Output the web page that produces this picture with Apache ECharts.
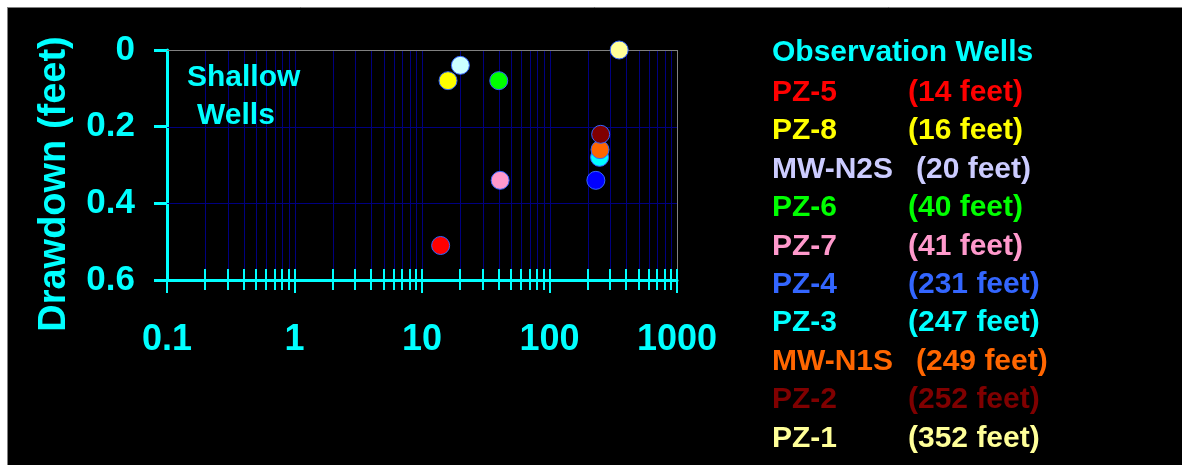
<!DOCTYPE html>
<html>
<head>
<meta charset="utf-8">
<script src="https://cdn.jsdelivr.net/npm/echarts@6/dist/echarts.min.js"></script>
<style>
  html, body { margin: 0; padding: 0; background: #ffffff; }
  #chart { width: 1182px; height: 468px; }
</style>
</head>
<body>
<div id="chart"></div>
<script>
// ---- data ----
const wellNames   = ['PZ-5', 'PZ-8', 'MW-N2S', 'PZ-6', 'PZ-7', 'PZ-4', 'PZ-3', 'MW-N1S', 'PZ-2', 'PZ-1'];
const wellDepths  = ['(14 feet)', '(16 feet)', '(20 feet)', '(40 feet)', '(41 feet)', '(231 feet)', '(247 feet)', '(249 feet)', '(252 feet)', '(352 feet)'];
const distances   = [14, 16, 20, 40, 41, 231, 247, 249, 252, 352];
const drawdowns   = [0.51, 0.08, 0.04, 0.08, 0.34, 0.34, 0.28, 0.26, 0.22, 0.0];
const majorTicks  = [0.1, 1, 10, 100, 1000];
const xTickLabels = ['0.1', '1', '10', '100', '1000'];
const minorTicks  = [0.2, 0.3, 0.4, 0.5, 0.6, 0.7, 0.8, 0.9,
                     2, 3, 4, 5, 6, 7, 8, 9,
                     20, 30, 40, 50, 60, 70, 80, 90,
                     200, 300, 400, 500, 600, 700, 800, 900];
const yGridValues = [0.2, 0.4];
const yTickLabels = ['0', '0.2', '0.4', '0.6'];
const xMin = 0.1, xMax = 1000, yMin = 0, yMax = 0.6, yStep = 0.2;

// ---- styles ----
const dotColors   = ['#FF0000', '#FFFF00', '#CCFFFF', '#00FF00', '#FF99CC', '#0000FF', '#00FFFF', '#FF6600', '#800000', '#FFFF99'];
const labelColors = ['#FF0000', '#FFFF00', '#CCCCFF', '#00FF00', '#FF99CC', '#3366FF', '#00FFFF', '#FF6600', '#800000', '#FFFF99'];
const CYAN = '#00FFFF', NAVY = '#000080', GRAY = '#808080';
const FONT = '"Liberation Sans", Arial, Helvetica, sans-serif';

const chart = echarts.init(document.getElementById('chart'), null, { renderer: 'canvas' });

const scatterData = distances.map((d, i) => ({
  value: [d, drawdowns[i]],
  name: wellNames[i],
  itemStyle: { color: dotColors[i] }
}));

const allTicks = majorTicks.concat(minorTicks).map(v => [v, yMin]);

// legend as text graphics
const legendEls = [];
legendEls.push({
  type: 'text', x: 772, y: 52.5, z: 20,
  style: { text: 'Observation Wells', fill: CYAN, font: 'bold 30px ' + FONT, textVerticalAlign: 'middle' }
});
wellNames.forEach((n, i) => {
  const y = 92.5 + i * 38.45;
  const isMW = n.indexOf('MW') === 0;
  legendEls.push({
    type: 'text', x: 772, y: y, z: 20,
    style: { text: n, fill: labelColors[i], font: 'bold 30px ' + FONT, textVerticalAlign: 'middle' }
  });
  legendEls.push({
    type: 'text', x: isMW ? 916 : 908, y: y, z: 20,
    style: { text: wellDepths[i], fill: labelColors[i], font: 'bold 30px ' + FONT, textVerticalAlign: 'middle' }
  });
});

const option = {
  backgroundColor: '#000000',
  animation: false,
  grid: { left: 167, top: 50, width: 510, height: 230, show: false },
  xAxis: {
    type: 'log', logBase: 10, min: xMin, max: xMax,
    axisLine: { show: true, onZero: false, lineStyle: { color: CYAN, width: 3 } },
    axisTick: { show: false },
    minorTick: { show: false },
    splitLine: { show: false },
    axisLabel: {
      color: CYAN, fontSize: 36, fontWeight: 'bold', fontFamily: FONT, margin: 42,
      formatter: function (v) {
        const i = majorTicks.findIndex(t => Math.abs(Math.log10(t) - Math.log10(v)) < 1e-6);
        return i >= 0 ? xTickLabels[i] : '';
      }
    }
  },
  yAxis: {
    type: 'value', inverse: true, min: yMin, max: yMax, interval: yStep,
    axisLine: { show: true, onZero: false, lineStyle: { color: CYAN, width: 3 } },
    axisTick: { show: true, length: 13, lineStyle: { color: CYAN, width: 3 } },
    splitLine: { show: false },
    axisLabel: {
      color: CYAN, fontSize: 35, fontWeight: 'bold', fontFamily: FONT, margin: 32,
      formatter: function (v) { return yTickLabels[Math.round((v - yMin) / yStep)]; }
    }
  },
  graphic: [
    { type: 'rect', shape: { x: 0, y: 0, width: 1182, height: 7 }, style: { fill: '#ffffff' }, z: 100 },
    { type: 'rect', shape: { x: 0, y: 0, width: 7, height: 468 }, style: { fill: '#ffffff' }, z: 100 },
    { type: 'rect', shape: { x: 0, y: 465, width: 1182, height: 3 }, style: { fill: '#ffffff' }, z: 100 },
    { type: 'line', shape: { x1: 7, y1: 7.5, x2: 1182, y2: 7.5 }, style: { stroke: GRAY, lineWidth: 1 }, z: 100 },
    { type: 'line', shape: { x1: 7.5, y1: 7, x2: 7.5, y2: 465 }, style: { stroke: GRAY, lineWidth: 1 }, z: 100 },
    {
      type: 'text', x: 55, y: 184, rotation: Math.PI / 2, z: 20,
      style: { text: 'Drawdown (feet)', fill: CYAN, font: 'bold 38px ' + FONT, textAlign: 'center', textVerticalAlign: 'middle' }
    },
    {
      type: 'text', x: 187, y: 78, z: 20,
      style: { text: 'Shallow', fill: CYAN, font: 'bold 30px ' + FONT, textVerticalAlign: 'middle' }
    },
    {
      type: 'text', x: 197, y: 116, z: 20,
      style: { text: 'Wells', fill: CYAN, font: 'bold 30px ' + FONT, textVerticalAlign: 'middle' }
    }
  ].concat(legendEls),
  series: [
    {
      // vertical grid lines (and grey right border)
      type: 'custom', z: 1, clip: false, silent: true,
      data: allTicks,
      renderItem: function (params, api) {
        const x = api.value(0);
        if (x === xMin) return null;
        const top = api.coord([x, yMin]);
        const bot = api.coord([x, yMax]);
        const px = Math.round(top[0]) + 0.5;
        return {
          type: 'line',
          shape: { x1: px, y1: top[1], x2: px, y2: bot[1] },
          style: { stroke: x === xMax ? GRAY : NAVY, lineWidth: 1 }
        };
      }
    },
    {
      // horizontal grid lines
      type: 'custom', z: 1, clip: false, silent: true,
      data: yGridValues.map(v => [xMin, v]),
      renderItem: function (params, api) {
        const y = api.value(1);
        const l = api.coord([xMin, y]);
        const r = api.coord([xMax, y]);
        const py = Math.round(l[1]) + 0.5;
        return {
          type: 'line',
          shape: { x1: l[0], y1: py, x2: r[0], y2: py },
          style: { stroke: NAVY, lineWidth: 1 }
        };
      }
    },
    {
      // grey top border
      type: 'custom', z: 1, clip: false, silent: true,
      data: [[xMin, yMin]],
      renderItem: function (params, api) {
        const l = api.coord([xMin, yMin]);
        const r = api.coord([xMax, yMin]);
        const py = Math.round(l[1]) + 0.5;
        return {
          type: 'line',
          shape: { x1: l[0], y1: py, x2: r[0] + 0.5, y2: py },
          style: { stroke: GRAY, lineWidth: 1 }
        };
      }
    },
    {
      type: 'scatter', z: 3, clip: false,
      symbol: 'circle', symbolSize: 18,
      itemStyle: { borderColor: '#3366FF', borderWidth: 1, opacity: 1 },
      data: scatterData
    },
    {
      // tick marks crossing the x axis
      type: 'custom', z: 4, clip: false, silent: true,
      data: allTicks,
      renderItem: function (params, api) {
        const x = api.value(0);
        const p = api.coord([x, yMax]);
        const isMajor = majorTicks.indexOf(x) >= 0;
        const px = Math.round(p[0]);
        return {
          type: 'line',
          shape: { x1: px, y1: p[1] - 11, x2: px, y2: p[1] + (isMajor ? 13 : 10) },
          style: { stroke: CYAN, lineWidth: 2 }
        };
      }
    }
  ]
};

chart.setOption(option);
</script>
</body>
</html>
